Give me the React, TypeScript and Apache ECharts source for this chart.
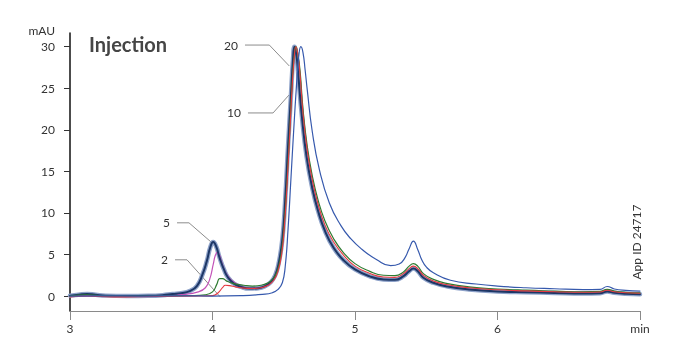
import React, { useEffect, useRef } from "react";
import * as echarts from "echarts";

type P = [number, number];

const xTickValues = [3, 4, 5, 6, 7];
const yTickValues = [0, 5, 10, 15, 20, 25, 30];

// darker trace (several overlapping injections)
const navyTrace: P[] = [
  [3.0, 0.05], [3.06, 0.15], [3.12, 0.25], [3.18, 0.15], [3.25, 0.05], [3.4, 0.0], [3.55, 0.02],
  [3.65, 0.1], [3.72, 0.25], [3.78, 0.35], [3.84, 0.6], [3.89, 1.2], [3.93, 2.6], [3.96, 4.2],
  [3.985, 5.9], [4.005, 6.5], [4.025, 6.0], [4.05, 4.6], [4.08, 3.2], [4.11, 2.2], [4.15, 1.5],
  [4.2, 1.1], [4.26, 0.9], [4.32, 0.95], [4.37, 1.2], [4.41, 1.7], [4.44, 2.5], [4.465, 4.0],
  [4.49, 6.8], [4.51, 11.5], [4.53, 18], [4.55, 24], [4.565, 28.5], [4.575, 30.0], [4.59, 28.8],
  [4.6, 27], [4.628, 21.5], [4.66, 16.8], [4.7, 13.0], [4.74, 10.3], [4.79, 7.8], [4.85, 5.8],
  [4.92, 4.3], [5.0, 3.2], [5.1, 2.4], [5.2, 2.0], [5.28, 1.95], [5.34, 2.4],
  [5.38, 3.0], [5.41, 3.3], [5.44, 3.0], [5.48, 2.2], [5.55, 1.6], [5.65, 1.15], [5.8, 0.8],
  [6.0, 0.55], [6.2, 0.45], [6.4, 0.38], [6.6, 0.32], [6.72, 0.35], [6.77, 0.55], [6.82, 0.4],
  [6.9, 0.28], [7.0, 0.22],
];

const magentaTrace: P[] = [
  [3.0, 0.0], [3.3, 0.0], [3.6, 0.05], [3.8, 0.2], [3.9, 0.5], [3.95, 1.0], [3.98, 2.0],
  [4.005, 3.8], [4.02, 4.9], [4.035, 5.3], [4.05, 4.9], [4.07, 3.8], [4.1, 2.6], [4.14, 1.8],
  [4.2, 1.2], [4.26, 0.95], [4.32, 0.95], [4.37, 1.2], [4.41, 1.7], [4.44, 2.5], [4.465, 4.0],
];

const greenTrace: P[] = [
  [3.0, 0.0], [3.12, 0.15], [3.25, 0.02], [3.6, 0.0], [3.85, 0.05], [3.95, 0.15], [4.0, 0.5],
  [4.03, 1.4], [4.05, 2.1], [4.07, 2.1], [4.1, 1.8], [4.15, 1.5], [4.22, 1.3], [4.28, 1.2],
  [4.34, 1.3], [4.39, 1.6], [4.43, 2.2], [4.46, 3.3], [4.485, 5.5], [4.505, 9], [4.525, 14.5],
  [4.545, 21], [4.56, 26], [4.575, 29.2], [4.585, 30.0], [4.6, 29], [4.615, 27], [4.635, 22.5],
  [4.665, 18], [4.7, 14.5], [4.74, 11.6], [4.79, 9.0], [4.85, 6.9], [4.92, 5.2], [5.0, 3.9],
  [5.1, 3.0], [5.2, 2.5], [5.28, 2.45], [5.34, 2.9], [5.38, 3.6], [5.41, 3.9],
  [5.44, 3.6], [5.48, 2.7], [5.55, 2.0], [5.65, 1.5], [5.8, 1.1], [6.0, 0.85], [6.2, 0.7],
  [6.4, 0.6], [6.6, 0.5], [6.72, 0.55], [6.77, 0.8], [6.82, 0.6], [6.9, 0.45], [7.0, 0.38],
];

const redTrace: P[] = [
  [3.0, -0.1], [3.12, 0.0], [3.3, -0.1], [3.6, -0.05], [3.9, 0.0], [4.0, 0.05], [4.04, 0.4],
  [4.07, 1.0], [4.09, 1.3], [4.12, 1.25], [4.16, 1.1], [4.22, 0.95], [4.28, 0.9], [4.34, 1.0],
  [4.39, 1.3], [4.43, 1.9], [4.46, 3.0], [4.485, 5.0], [4.505, 8.5], [4.525, 14], [4.545, 20.5],
  [4.56, 25.5], [4.575, 29], [4.585, 30.0], [4.6, 29], [4.615, 26.5], [4.635, 22], [4.665, 17.5],
  [4.7, 14.0], [4.74, 11.1], [4.79, 8.5], [4.85, 6.5], [4.92, 4.9], [5.0, 3.6],
  [5.1, 2.75], [5.2, 2.3], [5.28, 2.25], [5.34, 2.7], [5.38, 3.3], [5.41, 3.6], [5.44, 3.3],
  [5.48, 2.5], [5.55, 1.8], [5.65, 1.35], [5.8, 1.0], [6.0, 0.75], [6.2, 0.62], [6.4, 0.52],
  [6.6, 0.45], [6.72, 0.48], [6.77, 0.7], [6.82, 0.52], [6.9, 0.4], [7.0, 0.33],
];

const blueTrace: P[] = [
  [3.0, 0.0], [3.2, 0.02], [3.5, 0.0], [3.8, 0.02], [4.0, 0.0], [4.2, 0.05], [4.35, 0.2],
  [4.42, 0.4], [4.46, 0.8], [4.49, 1.6], [4.51, 3.5], [4.53, 8], [4.55, 14], [4.57, 20],
  [4.59, 25.5], [4.605, 28.8], [4.62, 30.0], [4.635, 29.3], [4.65, 27.2], [4.665, 24.8],
  [4.7, 19.8], [4.75, 15.2], [4.82, 11.2], [4.9, 8.5], [4.97, 6.9], [5.05, 5.6],
  [5.15, 4.4], [5.25, 3.65], [5.31, 3.85], [5.35, 4.6], [5.38, 5.7], [5.41, 6.6], [5.44, 5.6],
  [5.47, 4.3], [5.5, 3.5], [5.55, 2.8], [5.67, 1.9], [5.85, 1.45], [6.0, 1.2], [6.2, 1.0],
  [6.4, 0.88], [6.6, 0.78], [6.72, 0.8], [6.77, 1.15], [6.82, 0.85], [6.9, 0.68], [7.0, 0.6],
];

const leaderTexts = ["20", "10", "5", "2"];
const leaderPaths: P[][] = [
  [[4.228, 30.2], [4.399, 30.2], [4.539, 27.68]],
  [[4.249, 22.03], [4.425, 22.03], [4.537, 24.19]],
  [[3.751, 8.81], [3.835, 8.81], [3.996, 6.41]],
  [[3.737, 4.36], [3.821, 4.36], [4.053, -0.08]],
];

const FONT = "Lato";

function traceSeries(name: string, data: P[], color: string, width: number, z: number) {
  return {
    name,
    type: "line",
    data,
    smooth: 0.5,
    showSymbol: false,
    symbol: "none",
    lineStyle: { color, width, join: "round", cap: "round" },
    z,
    silent: true,
  };
}

export default function App() {
  const ref = useRef<HTMLDivElement>(null);
  useEffect(() => {
    if (!ref.current) return;
    const chart = echarts.init(ref.current, undefined, { renderer: "svg" });
    const leaders = leaderPaths.map((path, i) => ({
      type: "line",
      data: path.map((p, j) =>
        j === 0
          ? {
              value: p,
              label: {
                show: true,
                formatter: leaderTexts[i],
                position: "left",
                distance: 7,
                color: "#333",
                fontSize: 12,
                fontFamily: FONT,
              },
            }
          : { value: p }
      ),
      symbol: "circle",
      symbolSize: 0.01,
      itemStyle: { color: "#8c8c8c" },
      lineStyle: { color: "#8c8c8c", width: 1 },
      z: 1,
      silent: true,
    }));
    chart.setOption({
      animation: false,
      grid: { left: 70, right: 37, top: 33, bottom: 44, outerBoundsMode: "none" },
      xAxis: {
        type: "value",
        min: 3,
        max: 7,
        interval: 1,
        axisLine: { onZero: false, lineStyle: { color: "#8a8a8a", width: 1 } },
        axisTick: { show: true, length: 9, lineStyle: { color: "#8a8a8a" }, customValues: xTickValues },
        axisLabel: {
          margin: 11,
          fontSize: 12,
          color: "#333",
          fontFamily: FONT,
          customValues: xTickValues,
          formatter: (v: number) => (v === 7 ? "min" : String(v)),
        },
        splitLine: { show: false },
      },
      yAxis: {
        type: "value",
        min: -1.8,
        max: 31.65,
        axisLine: { show: true, onZero: false, lineStyle: { color: "#111", width: 1.5 } },
        axisTick: { show: true, length: 6, lineStyle: { color: "#333" }, customValues: yTickValues },
        axisLabel: {
          margin: 15,
          fontSize: 12,
          color: "#333",
          fontFamily: FONT,
          customValues: yTickValues,
        },
        splitLine: { show: false },
      },
      graphic: [
        {
          type: "text",
          x: 55,
          y: 30.5,
          style: { text: "mAU", fontSize: 12, fill: "#333", fontFamily: FONT, align: "right", verticalAlign: "middle" },
        },
        {
          type: "text",
          x: 89,
          y: 44,
          style: {
            text: "Injection",
            fontSize: 20,
            fontWeight: "bold",
            fill: "#454545",
            fontFamily: FONT,
            align: "left",
            verticalAlign: "middle",
          },
        },
        {
          type: "text",
          x: 636,
          y: 242,
          rotation: Math.PI / 2,
          style: {
            text: "App ID 24717",
            fontSize: 12,
            fill: "#333",
            fontFamily: FONT,
            align: "center",
            verticalAlign: "middle",
          },
        },
      ],
      series: [
        ...leaders,
        traceSeries("outline", navyTrace, "#8ea2c9", 4.5, 2),
        traceSeries("magenta", magentaTrace, "#c353b8", 1.2, 3),
        traceSeries("navy", navyTrace, "#1d3766", 2, 4),
        traceSeries("green", greenTrace, "#2e7b31", 1.2, 5),
        traceSeries("red", redTrace, "#e63940", 1.1, 6),
        traceSeries("blue", blueTrace, "#3659ad", 1.2, 7),
      ],
    });
    return () => chart.dispose();
  }, []);
  return <div ref={ref} style={{ position: "fixed", left: 0, top: 0, width: 677, height: 355 }} />;
}
